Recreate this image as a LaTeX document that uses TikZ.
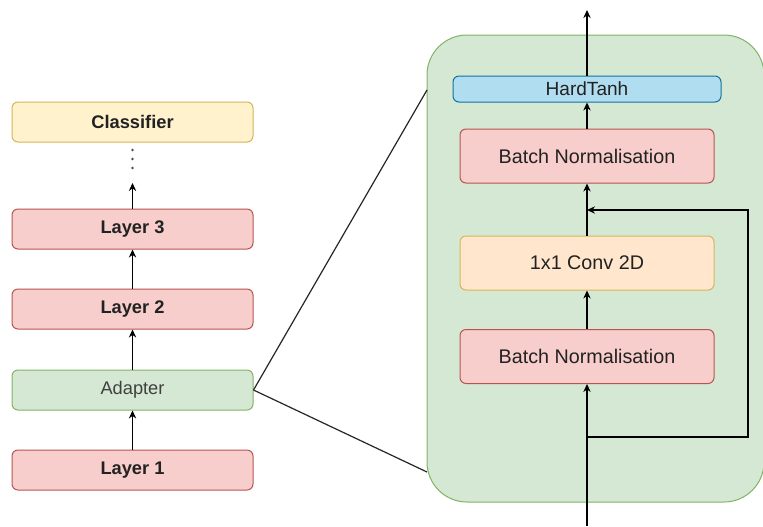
\documentclass[tikz,border=0pt]{standalone}
\usepackage{fontspec}
\setmainfont{Liberation Sans}
\usetikzlibrary{arrows.meta}
\definecolor{redF}{HTML}{F8CECC}\definecolor{redS}{HTML}{B85450}
\definecolor{grnF}{HTML}{D5E8D4}\definecolor{grnS}{HTML}{82B366}
\definecolor{ylwF}{HTML}{FFF2CC}\definecolor{ylwS}{HTML}{D6B656}
\definecolor{orgF}{HTML}{FFE6CC}\definecolor{orgS}{HTML}{D79B00}
\definecolor{bluF}{HTML}{B1DDF0}\definecolor{bluS}{HTML}{10739E}
\definecolor{txt}{HTML}{222222}
\tikzset{
  box/.style={draw, line width=0.75pt, rounded corners=4.5pt, text=txt, inner sep=0pt},
  lbox/.style={box, minimum width=241*0.75pt, minimum height=40*0.75pt, font=\fontsize{13.7}{16}\selectfont},
  rbox/.style={box, minimum width=254*0.75pt, minimum height=54*0.75pt, font=\fontsize{14.8}{17}\selectfont},
  redbox/.style={fill=redF, draw=redS},
  arr/.style={-{Stealth[length=6pt,width=5.5pt]}, line width=0.9pt, black},
  ln/.style={line width=0.9pt, black!85}
}
\begin{document}
\begin{tikzpicture}[x=0.75pt,y=-0.75pt]
\clip (0,0) rectangle (763,526);
\fill[white] (0,0) rectangle (763,526);
% container
\node[draw=grnS, fill=grnF, line width=0.75pt, rounded corners=30pt, minimum width=337*0.75pt, minimum height=467*0.75pt, inner sep=0pt] (cont) at (595.5,268.5) {};
% left column
\node[lbox, fill=ylwF, draw=ylwS, font=\fontsize{13.7}{16}\selectfont\bfseries] (cls) at (132.5,122) {Classifier};
\node[lbox, redbox, font=\fontsize{13.7}{16}\selectfont\bfseries] (l3) at (132.5,229) {Layer 3};
\node[lbox, redbox, font=\fontsize{13.7}{16}\selectfont\bfseries] (l2) at (132.5,309) {Layer 2};
\node[lbox, fill=grnF, draw=grnS, text=black!75] (ad) at (132.5,390) {Adapter};
\node[lbox, redbox, font=\fontsize{13.7}{16}\selectfont\bfseries] (l1) at (132.5,470) {Layer 1};
\coordinate (dotend) at (132.5,183);
\foreach \yy in {150,159,168} \fill[black!70] (132.5,\yy) circle (1.4);
\draw[arr] (l1) -- (ad);
\draw[arr] (ad) -- (l2);
\draw[arr] (l2) -- (l3);
\draw[arr] (l3) -- (dotend);
% zoom lines
\coordinate (zt) at (427,90);
\coordinate (zb) at (427,472);
\draw[ln] (ad.east) -- (zt);
\draw[ln] (ad.east) -- (zb);
% right column
\node[box, fill=bluF, draw=bluS, minimum width=268*0.75pt, minimum height=26*0.75pt, font=\fontsize{14.3}{17}\selectfont] (ht) at (587,89) {HardTanh};
\node[rbox, redbox] (bn2) at (587,156) {Batch Normalisation};
\node[rbox, fill=orgF, draw=ylwS] (conv) at (587,263) {1x1 Conv 2D};
\node[rbox, redbox] (bn1) at (587,356.5) {Batch Normalisation};
\coordinate (in) at (587,526);
\coordinate (out) at (587,10);
\coordinate (split) at (587,437);
\coordinate (join) at (587,210);
\draw[arr] (in) -- (bn1);
\draw[arr] (bn1) -- (conv);
\draw[arr] (conv) -- (bn2);
\draw[arr] (bn2) -- (ht);
\draw[arr] (ht) -- (out);
\draw[arr] (split) -- (748,437) -- (748,210) -- (join);
\end{tikzpicture}
\end{document}
